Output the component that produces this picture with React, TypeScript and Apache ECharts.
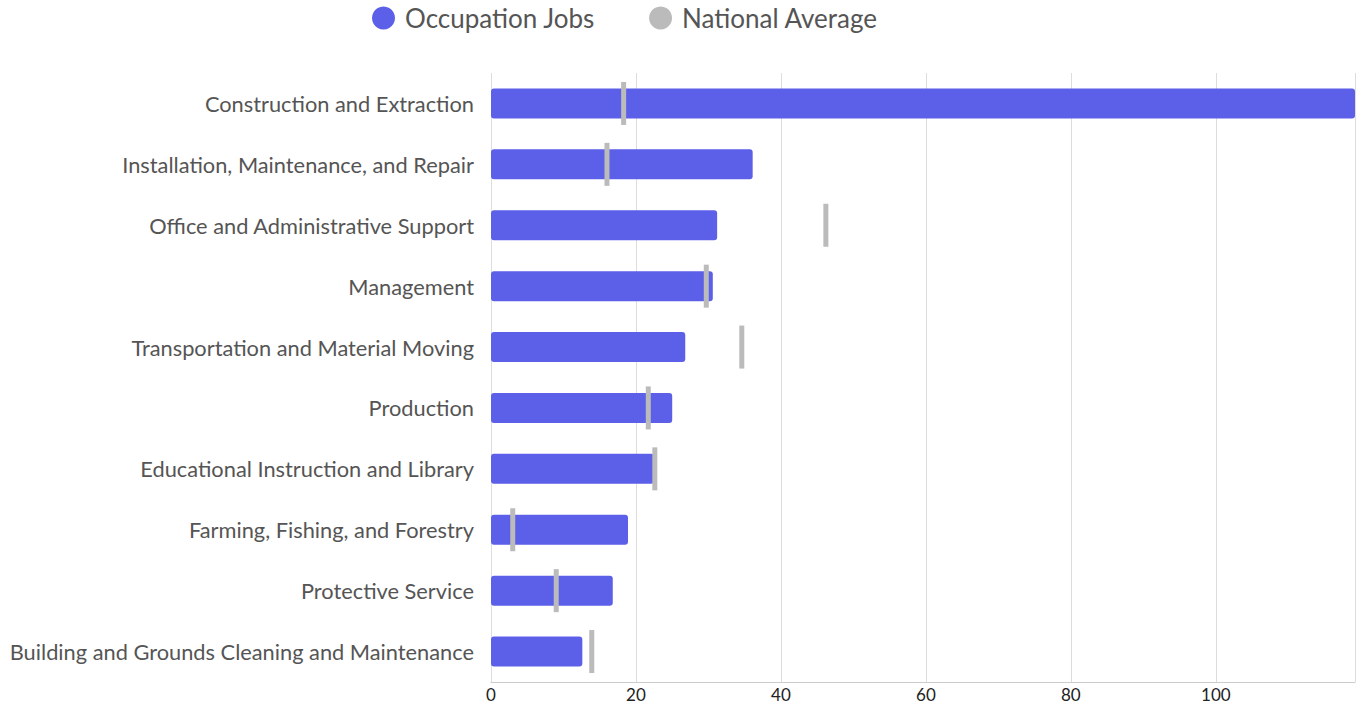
import React, { useEffect, useRef } from "react";
import * as echarts from "echarts";

const categories = [
  "Construction and Extraction",
  "Installation, Maintenance, and Repair",
  "Office and Administrative Support",
  "Management",
  "Transportation and Material Moving",
  "Production",
  "Educational Instruction and Library",
  "Farming, Fishing, and Forestry",
  "Protective Service",
  "Building and Grounds Cleaning and Maintenance",
];

const occupationJobs = [119.2, 36.1, 31.2, 30.6, 26.8, 25.0, 22.5, 18.9, 16.8, 12.6];
const nationalAverage = [18.3, 16.0, 46.2, 29.7, 34.6, 21.7, 22.6, 3.0, 9.0, 13.9];

const FONT = "Lato, 'Open Sans', sans-serif";

export default function App() {
  const ref = useRef<HTMLDivElement>(null);
  useEffect(() => {
    if (!ref.current) return;
    const chart = echarts.init(ref.current, undefined, { renderer: "svg" });
    chart.setOption({
      animation: false,
      textStyle: { fontFamily: FONT },
      legend: {
        top: 0,
        left: 367,
        icon: "circle",
        itemWidth: 23,
        itemHeight: 23,
        itemGap: 54,
        textStyle: { fontSize: 26, color: "#555", fontFamily: FONT, padding: [0, 0, 0, 5] },
        data: ["Occupation Jobs", "National Average"],
      },
      grid: { left: 491, right: 14, top: 73, bottom: 27, containLabel: false },
      xAxis: {
        type: "value",
        min: 0,
        max: "dataMax",
        interval: 20,
        axisLine: { show: true, lineStyle: { color: "#ccc" } },
        axisTick: { show: false },
        axisLabel: { fontSize: 17, color: "#222", margin: 4, showMaxLabel: false, fontFamily: FONT },
        splitLine: { show: true, lineStyle: { color: "#ddd", width: 1 } },
      },
      yAxis: {
        type: "category",
        inverse: true,
        data: categories,
        axisLine: { show: false },
        axisTick: { show: false },
        axisLabel: { fontSize: 21.8, color: "#555", margin: 17, fontFamily: FONT, padding: [0, 0, 4, 0] },
      },
      series: [
        {
          name: "Occupation Jobs",
          type: "bar",
          data: occupationJobs,
          barWidth: 30,
          itemStyle: { color: "#5c5fe7", borderRadius: 3 },
          z: 2,
        },
        {
          name: "National Average",
          type: "scatter",
          data: nationalAverage.map((v, i) => [v, categories[i]]),
          symbol: "rect",
          symbolSize: [5, 43],
          itemStyle: { color: "#bbbbbb", opacity: 1 },
          z: 3,
        },
      ],
    });
    return () => chart.dispose();
  }, []);
  return (
    <div
      ref={ref}
      style={{ position: "absolute", left: 0, top: 0, width: 1369, height: 709 }}
    />
  );
}
